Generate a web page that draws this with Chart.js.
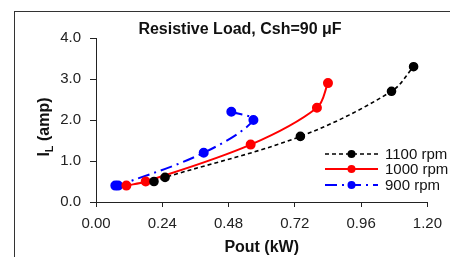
<!DOCTYPE html>
<html>
<head>
<meta charset="utf-8">
<script src="https://cdn.jsdelivr.net/npm/chart.js@4"></script>
<style>
  body { margin: 0; background: #fff; }
  #frame {
    position: absolute; left: 14px; top: 11px;
    width: 436px; height: 246px;
    border-left: 1px solid #333; border-top: 1px solid #333;
  }
  canvas { display: block; }
</style>
</head>
<body>
<div id="frame"><canvas id="chart" width="435" height="245"></canvas></div>
<script>
/* ── DATA ── */
const pout1100 = [0.21, 0.25, 0.74, 1.07, 1.15];
const il1100   = [0.5, 0.6, 1.6, 2.7, 3.3];
const pout1000 = [0.11, 0.18, 0.56, 0.80, 0.84];
const il1000   = [0.4, 0.5, 1.4, 2.3, 2.9];
const pout900  = [0.07, 0.08, 0.39, 0.57, 0.49];
const il900    = [0.4, 0.4, 1.2, 2.0, 2.2];
const xTickVals = [0.00, 0.24, 0.48, 0.72, 0.96, 1.20];
const yTickVals = [0.0, 1.0, 2.0, 3.0, 4.0];
const seriesLabels = ['1100 rpm', '1000 rpm', '900 rpm'];

const FONT = 'Arial, "Liberation Sans", sans-serif';

function pts(xs, ys) { return xs.map((x, i) => ({ x: x, y: ys[i] })); }

/* ── custom bits: y title with subscript, inside legend ── */
const yTitlePlugin = {
  id: 'yTitle',
  afterDraw(chart) {
    const ctx = chart.ctx;
    const big = 'bold 16px ' + FONT, small = 'bold 11px ' + FONT;
    ctx.save();
    ctx.translate(30, 115);
    ctx.rotate(-Math.PI / 2);
    ctx.fillStyle = '#111';
    ctx.textBaseline = 'middle';
    ctx.font = big;   const wI = ctx.measureText('I').width;
    ctx.font = small; const wL = ctx.measureText('L').width;
    ctx.font = big;   const wR = ctx.measureText(' (amp)').width;
    let x = -(wI + wL + wR) / 2;
    ctx.font = big;   ctx.fillText('I', x, 0); x += wI;
    ctx.font = small; ctx.fillText('L', x, 5); x += wL;
    ctx.font = big;   ctx.fillText(' (amp)', x, 0);
    ctx.restore();
  }
};

const legendPlugin = {
  id: 'insideLegend',
  afterDraw(chart) {
    const ctx = chart.ctx;
    const rowY = [142, 157, 173];
    chart.data.datasets.forEach((ds, i) => {
      const y = rowY[i];
      ctx.save();
      ctx.strokeStyle = ds.borderColor;
      ctx.lineWidth = ds.borderWidth;
      ctx.setLineDash(ds.borderDash || []);
      ctx.beginPath(); ctx.moveTo(310, y); ctx.lineTo(363, y); ctx.stroke();
      ctx.setLineDash([]);
      ctx.fillStyle = ds.borderColor;
      ctx.beginPath(); ctx.arc(336.5, y, 4, 0, Math.PI * 2); ctx.fill();
      ctx.fillStyle = '#111';
      ctx.font = '15px ' + FONT;
      ctx.textBaseline = 'middle';
      ctx.fillText(ds.label, 370, y + 1);
      ctx.restore();
    });
  }
};

new Chart(document.getElementById('chart'), {
  type: 'scatter',
  data: {
    datasets: [
      { label: seriesLabels[0], data: pts(pout1100, il1100), showLine: true,
        borderColor: '#000', backgroundColor: '#000', borderWidth: 1.6, borderDash: [4, 3],
        pointRadius: 4, pointHoverRadius: 4, tension: 0.35 },
      { label: seriesLabels[1], data: pts(pout1000, il1000), showLine: true,
        borderColor: '#ff0000', backgroundColor: '#ff0000', borderWidth: 2,
        pointRadius: 4, pointHoverRadius: 4, tension: 0.35 },
      { label: seriesLabels[2], data: pts(pout900, il900), showLine: true,
        borderColor: '#0000ff', backgroundColor: '#0000ff', borderWidth: 2, borderDash: [12, 5, 2, 5],
        pointRadius: 4, pointHoverRadius: 4, tension: 0.35 }
    ]
  },
  options: {
    responsive: false,
    animation: false,
    // left padding shifts the title centre to where the reference has it
    layout: { padding: { top: 0, right: 16, bottom: 0, left: 31 } },
    plugins: {
      legend: { display: false },
      tooltip: { enabled: false },
      title: {
        display: true,
        text: 'Resistive Load, Csh=90 μF',
        color: '#111',
        font: { family: FONT, size: 16, weight: 'bold', lineHeight: 1 },
        padding: { top: 10, bottom: 0 }
      }
    },
    scales: {
      x: {
        type: 'linear', min: 0, max: 1.2,
        afterFit: s => { s.height = 55; },
        afterBuildTicks: s => { s.ticks = xTickVals.map(v => ({ value: v })); },
        grid: { drawOnChartArea: false, tickLength: 5, color: '#222' },
        border: { color: '#222', width: 1 },
        ticks: { color: '#222', padding: 8, maxRotation: 0, font: { family: FONT, size: 15 },
                 callback: v => v.toFixed(2) },
        title: { display: true, text: 'Pout (kW)', color: '#111',
                 font: { family: FONT, size: 16, weight: 'bold' }, padding: { top: 0, bottom: 0 } }
      },
      y: {
        type: 'linear', min: 0, max: 4,
        afterFit: s => { s.width = 50; },
        afterBuildTicks: s => { s.ticks = yTickVals.map(v => ({ value: v })); },
        grid: { drawOnChartArea: false, tickLength: 6, color: '#222' },
        border: { color: '#222', width: 1 },
        ticks: { color: '#222', padding: 9, font: { family: FONT, size: 15 },
                 callback: v => v.toFixed(1) }
      }
    }
  },
  plugins: [yTitlePlugin, legendPlugin]
});
</script>
</body>
</html>
